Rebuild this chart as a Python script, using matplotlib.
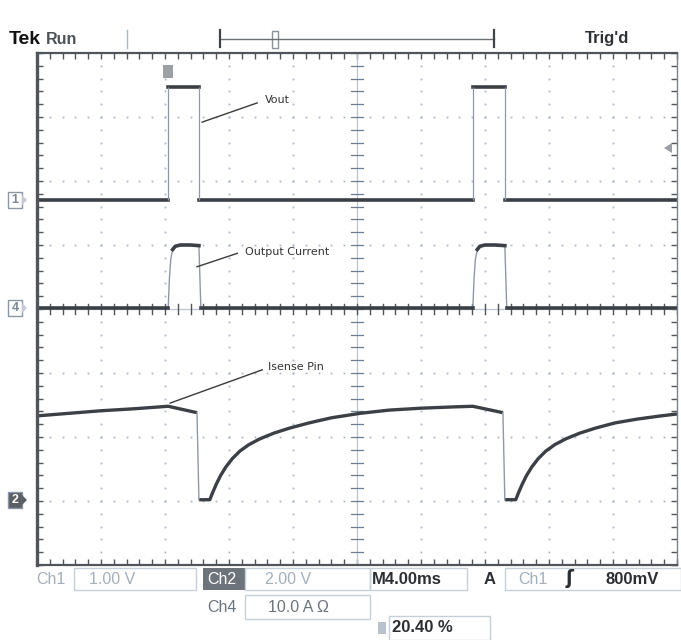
import numpy as np
import matplotlib.pyplot as plt
from matplotlib.patches import Rectangle, Polygon
from matplotlib.lines import Line2D

W, H = 681, 640

# screen is 10 x 8 divisions, M = 4.00 ms/div
# Ch1 (Vout) levels in divisions
vout_base = 5.70
vout_top = 7.47
vout_rise = [2.05, 6.81]
vout_fall = [2.53, 7.31]

# Ch4 (output current)
iout_base = 4.02
iout_x = [2.05, 2.07, 2.09, 2.12, 2.16, 2.24, 2.40, 2.53, 2.56,
          6.81, 6.83, 6.85, 6.88, 6.92, 7.00, 7.16, 7.31, 7.34]
iout_y = [4.02, 4.50, 4.78, 4.93, 4.98, 5.00, 5.00, 4.99, 4.02,
          4.02, 4.50, 4.78, 4.93, 4.98, 5.00, 5.00, 4.99, 4.02]

# Ch2 (Isense pin), one list per piece between the fast falling edges
isense_a_x = [0, 0.5, 1.0, 1.5, 2.05, 2.50]
isense_a_y = [2.33, 2.37, 2.41, 2.44, 2.48, 2.38]
isense_b_x = [2.53, 2.70, 2.74, 2.80, 2.87, 2.95, 3.05, 3.17, 3.31, 3.48, 3.70, 3.95, 4.25, 4.60, 5.05, 5.5,
              6.0, 6.5, 6.81, 7.28]
isense_b_y = [1.02, 1.02, 1.12, 1.26, 1.40, 1.53, 1.66, 1.78, 1.88, 1.97, 2.06, 2.14, 2.22, 2.30, 2.37, 2.42,
              2.45, 2.47, 2.48, 2.38]
isense_c_x = [7.31, 7.48, 7.52, 7.58, 7.65, 7.73, 7.83, 7.95, 8.09, 8.26, 8.48, 8.73, 9.03, 9.38, 9.75, 10]
isense_c_y = [1.02, 1.02, 1.12, 1.26, 1.40, 1.53, 1.66, 1.78, 1.88, 1.97, 2.06, 2.14, 2.22, 2.28, 2.33, 2.36]

trace = '#3b4046'
edge = '#8d99a6'
grid = '#a9b8c8'

fig = plt.figure(figsize=(W / 100, H / 100), dpi=100)
fig.patch.set_facecolor('white')

def fx(x):
    return x / W

def fy(y):
    return 1 - y / H

ax = fig.add_axes([fx(37), fy(565), (677 - 37) / W, (565 - 53) / H])
ax.set_xlim(0, 10)
ax.set_ylim(0, 8)
for s in ax.spines.values():
    s.set_color('#50555b')
    s.set_linewidth(1.6)
ax.spines['left'].set_linewidth(2.4)
ax.spines['right'].set_color('#7a828a')
ax.spines['right'].set_linewidth(1.0)
ax.set_xticks(np.arange(0, 11, 1))
ax.set_yticks(np.arange(0, 9, 1))
ax.set_xticks(np.arange(0, 10.01, 0.2), minor=True)
ax.set_yticks(np.arange(0, 8.01, 0.2), minor=True)
ax.tick_params(which='both', direction='in', top=True, right=True, labelbottom=False, labelleft=False,
               length=4, width=1, color='#50555b')

# dotted graticule
dots_y = np.arange(0, 8.01, 0.2)
dots_x = np.arange(0, 10.01, 0.2)
for gx in [1, 2, 3, 4, 6, 7, 8, 9]:
    ax.plot(np.full_like(dots_y, gx), dots_y, ls='none', marker='s', ms=1.3, color=grid, mew=0)
for gy in [1, 2, 3, 5, 6, 7]:
    ax.plot(dots_x, np.full_like(dots_x, gy), ls='none', marker='s', ms=1.3, color=grid, mew=0)

# centre cross with ticks
ax.axvline(5, color='#b9c5d2', lw=0.9)
ax.axhline(4, color='#b9c5d2', lw=0.9)
for t in dots_y:
    ax.plot([4.9, 5.1], [t, t], color='#6d7e90', lw=0.9)
for t in dots_x:
    ax.plot([t, t], [3.92, 4.08], color='#50555b', lw=1.0)

# Ch1 Vout
ax.plot([0, vout_rise[0]], [vout_base] * 2, color=trace, lw=2.6)
ax.plot([vout_fall[0], vout_rise[1]], [vout_base] * 2, color=trace, lw=2.6)
ax.plot([vout_fall[1], 10], [vout_base] * 2, color=trace, lw=2.6)
for r, f in zip(vout_rise, vout_fall):
    ax.plot([r, f], [vout_top] * 2, color=trace, lw=2.6)
    ax.vlines([r, f], vout_base, vout_top, color=edge, lw=0.9)

# Ch4 output current: thin edges, thick settled parts
ax.plot(iout_x[:9], iout_y[:9], color=edge, lw=1.0)
ax.plot(iout_x[9:], iout_y[9:], color=edge, lw=1.0)
ax.plot(iout_x[3:8], iout_y[3:8], color=trace, lw=2.6)
ax.plot(iout_x[12:17], iout_y[12:17], color=trace, lw=2.6)
ax.plot([0, iout_x[0]], [iout_base] * 2, color=trace, lw=2.6)
ax.plot([iout_x[8], iout_x[9]], [iout_base] * 2, color=trace, lw=2.6)
ax.plot([iout_x[17], 10], [iout_base] * 2, color=trace, lw=2.6)

# Ch2 Isense
ax.plot(isense_a_x, isense_a_y, color=trace, lw=2.4, solid_capstyle='butt')
ax.plot(isense_b_x, isense_b_y, color=trace, lw=2.4, solid_capstyle='butt')
ax.plot(isense_c_x, isense_c_y, color=trace, lw=2.4, solid_capstyle='butt')
ax.plot([isense_a_x[-1], isense_b_x[0]], [isense_a_y[-1], isense_b_y[0]], color=edge, lw=1.0)
ax.plot([isense_b_x[-1], isense_c_x[0]], [isense_b_y[-1], isense_c_y[0]], color=edge, lw=1.0)

# labels with leader lines
lab_kw = dict(fontsize=8, color='#333333', va='center')
ax.plot([2.58, 3.44], [6.92, 7.22], color='#3a3a3a', lw=1.0)
ax.text(3.56, 7.27, 'Vout', **lab_kw)
ax.plot([2.50, 3.13], [4.66, 4.87], color='#3a3a3a', lw=1.0)
ax.text(3.25, 4.89, 'Output Current', **lab_kw)
ax.plot([2.08, 3.52], [2.53, 3.05], color='#3a3a3a', lw=1.0)
ax.text(3.61, 3.10, 'Isense Pin', **lab_kw)

# header
fig.text(fx(9), fy(39), 'Tek', fontsize=14, fontweight='bold', color='#111111', va='center',
         family='Liberation Sans')
fig.text(fx(46), fy(39), 'Run', fontsize=11.5, fontweight='bold', color='#4c5258', va='center',
         family='Liberation Sans')
fig.text(fx(585), fy(39), "Trig'd", fontsize=12, fontweight='bold', color='#2e3236', va='center',
         family='Liberation Sans')
fig.add_artist(Line2D([fx(127), fx(127)], [fy(30), fy(48)], color='#a7bacd', lw=1))
fig.add_artist(Line2D([fx(220), fx(494)], [fy(39), fy(39)], color='#6a6f75', lw=1))
fig.add_artist(Line2D([fx(220), fx(220)], [fy(30), fy(47)], color='#3f4448', lw=1.6))
fig.add_artist(Line2D([fx(494), fx(494)], [fy(30), fy(47)], color='#3f4448', lw=1.6))
fig.add_artist(Rectangle((fx(272), fy(48)), 6 / W, 17 / H, fc='white', ec='#8a929a', lw=1))

# trigger position / level markers
fig.add_artist(Rectangle((fx(163), fy(78)), 10 / W, 13 / H, fc='#9aa0a6', ec='none'))
fig.add_artist(Polygon([(fx(664), fy(148)), (fx(672), fy(143)), (fx(672), fy(153))], fc='#9aa0a6', ec='none'))

# channel markers
for lab, yy, filled in [('1', 200, False), ('4', 308, False), ('2', 500, True)]:
    fig.add_artist(Rectangle((fx(8), fy(yy + 8)), 14 / W, 16 / H,
                             fc='#5a5f66' if filled else 'white', ec='#8a97a6', lw=1))
    fig.add_artist(Polygon([(fx(22), fy(yy - 5)), (fx(27), fy(yy)), (fx(22), fy(yy + 5))],
                           fc='#5a5f66' if filled else '#c2ccd6', ec='none'))
    fig.text(fx(15), fy(yy), lab, fontsize=9, fontweight='bold', ha='center', va='center',
             color='white' if filled else '#7b8794', family='Liberation Sans')

# bottom readouts
light = '#a3afbb'
mid = '#6c747c'
dark = '#2b2f33'
box = '#c5d0da'
fs = 11.5
fig.text(fx(36), fy(579), 'Ch1', fontsize=fs, color=light, va='center', family='Liberation Sans')
fig.add_artist(Rectangle((fx(74), fy(590)), (196 - 74) / W, 22 / H, fc='none', ec=box, lw=1))
fig.text(fx(89), fy(579), '1.00 V', fontsize=fs, color=light, va='center', family='Liberation Sans')
fig.add_artist(Rectangle((fx(203), fy(590)), 42 / W, 22 / H, fc='#6c737a', ec='none'))
fig.text(fx(207), fy(579), 'Ch2', fontsize=fs, color='white', va='center', family='Liberation Sans')
fig.add_artist(Rectangle((fx(245), fy(590)), (370 - 245) / W, 22 / H, fc='none', ec=box, lw=1))
fig.text(fx(265), fy(579), '2.00 V', fontsize=fs, color=light, va='center', family='Liberation Sans')
fig.text(fx(372), fy(579), 'M4.00ms', fontsize=fs + 0.5, fontweight='bold', color=dark, va='center',
         family='Liberation Sans')
fig.add_artist(Rectangle((fx(370), fy(590)), (467 - 370) / W, 22 / H, fc='none', ec=box, lw=1))
fig.text(fx(484), fy(579), 'A', fontsize=fs + 0.5, fontweight='bold', color=dark, va='center',
         family='Liberation Sans')
fig.add_artist(Rectangle((fx(505), fy(590)), (681 - 505) / W, 22 / H, fc='none', ec=box, lw=1))
fig.text(fx(518), fy(579), 'Ch1', fontsize=fs, color=light, va='center', family='Liberation Sans')
fig.text(fx(566), fy(579), '\u0283', fontsize=fs + 2, fontweight='bold', color=dark, va='center',
         family='DejaVu Sans')
fig.text(fx(606), fy(579), '800mV', fontsize=fs + 0.5, fontweight='bold', color=dark, va='center',
         family='Liberation Sans')

fig.text(fx(207), fy(607), 'Ch4', fontsize=fs, color=mid, va='center', family='Liberation Sans')
fig.add_artist(Rectangle((fx(245), fy(619)), (370 - 245) / W, 24 / H, fc='none', ec=box, lw=1))
fig.text(fx(268), fy(607), '10.0 A \u03a9', fontsize=fs, color=mid, va='center', family='Liberation Sans')

fig.add_artist(Rectangle((fx(378), fy(634)), 8 / W, 12 / H, fc='#b9c2ca', ec='none'))
fig.add_artist(Rectangle((fx(389), fy(640)), (490 - 389) / W, 24 / H, fc='none', ec=box, lw=1))
fig.text(fx(392), fy(628), '20.40 %', fontsize=fs + 0.5, fontweight='bold', color=dark, va='center',
         family='Liberation Sans')

fig.savefig('out.png', dpi=100)
